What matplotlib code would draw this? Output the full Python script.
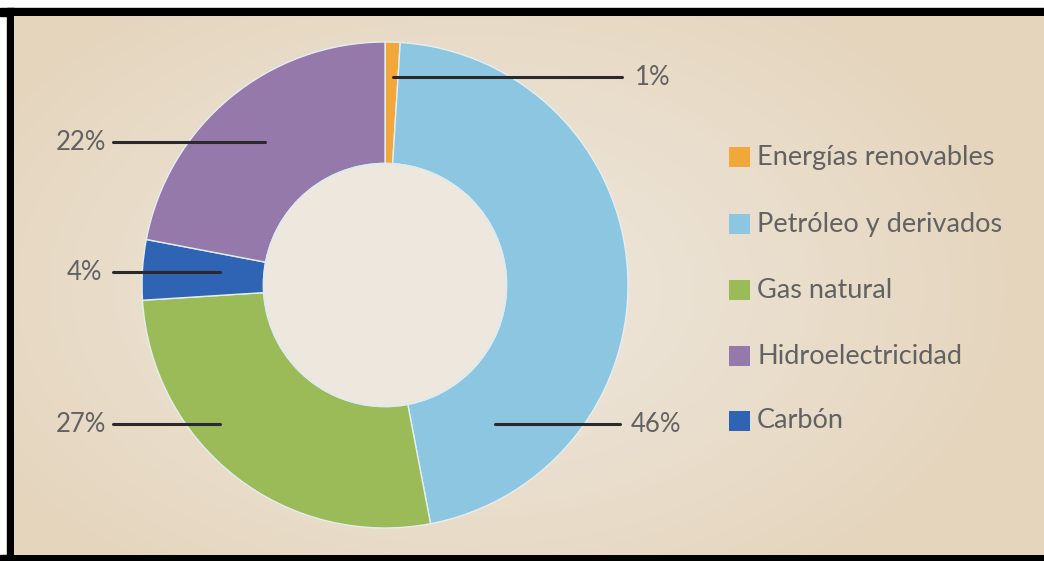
import numpy as np
import matplotlib
matplotlib.use("Agg")
import matplotlib.pyplot as plt
from matplotlib.patches import Rectangle, Circle

# Energy mix shares (%)
categories = ["Energías renovables", "Petróleo y derivados", "Gas natural",
              "Hidroelectricidad", "Carbón"]
shares = [1, 46, 27, 22, 4]
colors = ["#F2A73B", "#8CC6E0", "#9BBB59", "#9579AA", "#2F64B4"]

# Ring order (clockwise from the top)
ring_order = [0, 1, 2, 4, 3]

W, H = 1044, 561
fig = plt.figure(figsize=(W / 100, H / 100), dpi=100)
ax = fig.add_axes([0, 0, 1, 1])
ax.set_xlim(0, W)
ax.set_ylim(0, H)
ax.set_aspect("equal")
ax.axis("off")

def py(y):
    """Convert a top-down pixel row into the axes' y coordinate."""
    return H - y

# Frame: white strip on top, black border on top/left/bottom
fig.patch.set_facecolor("white")
ax.add_patch(Rectangle((0, py(16)), W, 8, color="black", zorder=0))
ax.add_patch(Rectangle((7, 0), 7, py(8), color="black", zorder=0))
ax.add_patch(Rectangle((0, 0), W, py(555), color="black", zorder=0))

# Beige panel with a soft light centre
x0, x1, y0, y1 = 14, W, 555, 16
gx = np.linspace(x0, x1, 400)
gy = np.linspace(y1, y0, 220)
GX, GY = np.meshgrid(gx, gy)
d = np.sqrt(((GX - 470) / 560) ** 2 + ((GY - 290) / 360) ** 2)
t = np.clip(d, 0, 1) ** 1.2
c_in = np.array([0xEE, 0xE7, 0xDC]) / 255
c_out = np.array([0xE5, 0xD5, 0xBD]) / 255
img = c_in[None, None, :] * (1 - t[..., None]) + c_out[None, None, :] * t[..., None]
ax.imshow(img, extent=(x0, x1, py(y0), py(y1)), origin="upper",
          zorder=0.5, interpolation="bilinear", aspect="auto")

# Donut
cx, cy, R = 385, py(285), 243
hole = 0.5
ax.pie([shares[i] for i in ring_order], colors=[colors[i] for i in ring_order],
       center=(cx, cy), radius=R, startangle=90, counterclock=False,
       wedgeprops=dict(width=R * (1 - hole), edgecolor="#E4EEF2", linewidth=1.0),
       frame=True)
ax.add_patch(Circle((cx, cy), R * hole, facecolor="#EDE7DD", edgecolor="#DDEAF0",
                    linewidth=1.2, zorder=3))
ax.set_xlim(0, W)
ax.set_ylim(0, H)
ax.axis("off")

# Leader lines and percentage labels
txt_color = "#626262"
line_color = "#2A2A2E"
label_font = dict(family="Lato", fontsize=18.5, color=txt_color)
leaders = [
    # (category index, line x start, line x end, row y, label x, ha)
    (0, 393, 622, 77, 635, "left"),
    (1, 495, 620, 424, 631, "left"),
    (2, 113, 220, 424, 106, "right"),
    (4, 113, 220, 272, 102, "right"),
    (3, 113, 265, 142, 106, "right"),
]
for idx, xa, xb, yr, xl, ha in leaders:
    ax.plot([xa, xb], [py(yr), py(yr)], color=line_color, lw=2.2,
            solid_capstyle="round", zorder=4)
    ax.text(xl, py(yr), f"{shares[idx]}%", ha=ha, va="center", zorder=5,
            **label_font)

# Legend
leg_y = [157, 224, 290, 356, 421]
for i, yl in enumerate(leg_y):
    ax.add_patch(Rectangle((729, py(yl) - 10), 21, 20, facecolor=colors[i],
                           edgecolor="none", zorder=4))
    ax.text(757, py(yl), categories[i], ha="left", va="center",
            family="Lato", fontsize=19.5, color=txt_color, zorder=5)

fig.savefig("out.png", dpi=100)
